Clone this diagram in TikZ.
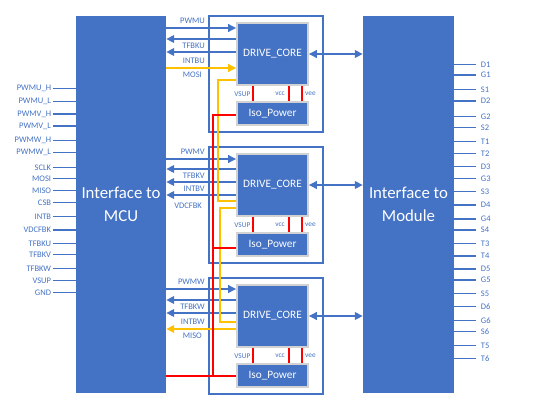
\documentclass[tikz,border=0pt]{standalone}
\usepackage{fontspec}
\setmainfont{Carlito}
\usetikzlibrary{arrows.meta,calc}
\definecolor{ob}{HTML}{4472C4}
\definecolor{rd}{HTML}{FF0000}
\definecolor{yl}{HTML}{FFC000}
\begin{document}
\begin{tikzpicture}[x=1pt,y=-1pt,
 blk/.style={fill=ob,draw=none,inner sep=0pt,text=white,font=\fontsize{16.8}{23}\selectfont,align=center},
 frm/.style={draw=ob,line width=1.3pt,inner sep=0pt},
 core/.style={fill=ob,draw=gray!35,line width=1.6pt,inner sep=0pt,text=white,font=\fontsize{11.3}{13}\selectfont},
 pinline/.style={draw=ob,line width=1.5pt},
 lbl/.style={text=ob,font=\fontsize{8.5}{10}\selectfont,inner sep=1pt},
 slbl/.style={text=ob,font=\fontsize{7.3}{8}\selectfont,inner sep=1pt},
 sig/.style={draw=ob,line width=2pt,-{Triangle[length=8pt,width=7.5pt]}},
 bid/.style={draw=ob,line width=2pt,{Triangle[length=8pt,width=7.5pt]}-{Triangle[length=8pt,width=7.5pt]}},
 spi/.style={draw=yl,line width=2.2pt},
 spiarr/.style={draw=yl,line width=2.2pt,-{Triangle[length=8pt,width=7.5pt]}},
 pw/.style={draw=rd,line width=2.2pt},
 vline/.style={draw=rd,line width=2pt}
]
\useasboundingbox (0,0) rectangle (554,400);

% big blocks
\node[blk,minimum width=90pt,minimum height=377pt] (mcu) at (121,204.5) {Interface to\\MCU};
\node[blk,minimum width=91pt,minimum height=377pt] (mod) at (408.5,204.5) {Interface to\\Module};

% modules
\foreach \k/\T in {1/16,2/147,3/278}{
  \node[frm,minimum width=114pt,minimum height=116pt] (f\k) at (266,\T+58) {};
  \node[core,minimum width=71pt,minimum height=62pt] (dc\k) at (272.5,\T+38) {DRIVE\_CORE};
  \node[core,minimum width=71pt,minimum height=23pt] (iso\k) at (272.5,\T+97.5) {Iso\_Power};
  \draw[vline] (dc\k.south -| 253,0) -- (iso\k.north -| 253,0);
  \draw[vline] (dc\k.south -| 289,0) -- (iso\k.north -| 289,0);
  \draw[vline] (dc\k.south -| 302,0) -- (iso\k.north -| 302,0);
  \node[slbl,anchor=east] (vs\k) at (251.5,\T+78) {VSUP};
  \node[slbl] (vc\k) at (280,\T+78) {vcc};
  \node[slbl,anchor=west] (ve\k) at (304,\T+78) {vee};
  \draw[bid] (dc\k.east) -- (mod.west |- dc\k.east);
}

% module 1 signals
\draw[sig] (mcu.east |- 0,28) -- (dc1.west |- 0,28);
\draw[sig] (dc1.west |- 0,39) -- (mcu.east |- 0,39);
\draw[sig] (dc1.west |- 0,52) -- (mcu.east |- 0,52);
\node[lbl,anchor=east] (l1a) at (206,21) {PWMU};
\node[lbl,anchor=east] (l1b) at (206,46) {TFBKU};
\node[lbl,anchor=east] (l1c) at (206,60.5) {INTBU};
\node[lbl,anchor=east] (l1d) at (203,75) {MOSI};

% module 2 signals
\draw[sig] (mcu.east |- 0,159) -- (dc2.west |- 0,159);
\draw[sig] (dc2.west |- 0,169) -- (mcu.east |- 0,169);
\draw[sig] (dc2.west |- 0,182) -- (mcu.east |- 0,182);
\draw[sig] (dc2.west |- 0,195) -- (mcu.east |- 0,195);
\node[lbl,anchor=east] (l2a) at (206,152) {PWMV};
\node[lbl,anchor=east] (l2b) at (206,176) {TFBKV};
\node[lbl,anchor=east] (l2c) at (206,188.5) {INTBV};
\node[lbl,anchor=east] (l2d) at (203,206) {VDCFBK};

% module 3 signals
\draw[sig] (mcu.east |- 0,289) -- (dc3.west |- 0,289);
\draw[sig] (dc3.west |- 0,300) -- (mcu.east |- 0,300);
\draw[sig] (dc3.west |- 0,313) -- (mcu.east |- 0,313);
\node[lbl,anchor=east] (l3a) at (206,282) {PWMW};
\node[lbl,anchor=east] (l3b) at (206,307) {TFBKW};
\node[lbl,anchor=east] (l3c) at (206,321.5) {INTBW};
\node[lbl,anchor=east] (l3d) at (203,336) {MISO};

% SPI chain (yellow)
\coordinate (y1a) at (218,80);
\coordinate (y1b) at (218,201);
\coordinate (y2a) at (220,208);
\coordinate (y2b) at (220,322);
\draw[spiarr] (mcu.east |- 0,68) -- (dc1.west |- 0,68);
\draw[spi] (dc1.west |- y1a) -- (y1a) -- (y1b) -- (dc2.west |- y1b);
\draw[spi] (dc2.west |- y2a) -- (y2a) -- (y2b) -- (dc3.west |- y2b);
\draw[spiarr] (dc3.west |- 0,329) -- (mcu.east |- 0,329);

% power (red)
\coordinate (r0) at (213,376);
\coordinate (r1) at (213,115);
\coordinate (r2) at (213,248);
\draw[pw] (mcu.east |- r0) -- (iso3.west |- r0);
\draw[pw] (r0) -- (r1) -- (iso1.west |- r1);
\draw[pw] (r2) -- (iso2.west |- r2);

% left pins
\foreach \n/\y in {PWMU\_H/88.3,PWMU\_L/101.7,PWMV\_H/114,PWMV\_L/126,PWMW\_H/140.7,PWMW\_L/152.3,SCLK/167.3,MOSI/178.3,MISO/190.7,CSB/202.3,INTB/216.7,VDCFBK/230,TFBKU/243.3,TFBKV/254.3,TFBKW/268.3,VSUP/280.7,GND/292.7}{
  \draw[pinline] (mcu.west |- 0,\y) -- ++(-23,0) node[lbl,anchor=east] {\n};
}
% right pins
\foreach \n/\y in {D1/64.3,G1/75,S1/89.3,D2/101,G2/116.7,S2/127.7,T1/141.7,T2/153.7,D3/166.7,G3/178.3,S3/191.7,D4/205,G4/219,S4/230,T3/243.3,T4/256,D5/269,G5/280,S5/293.3,D6/306.7,G6/320.7,S6/331.7,T5/345.7,T6/358.3}{
  \draw[pinline] (mod.east |- 0,\y) -- ++(22,0) node[lbl,anchor=west,xshift=3pt] {\n};
}
\end{tikzpicture}
\end{document}
